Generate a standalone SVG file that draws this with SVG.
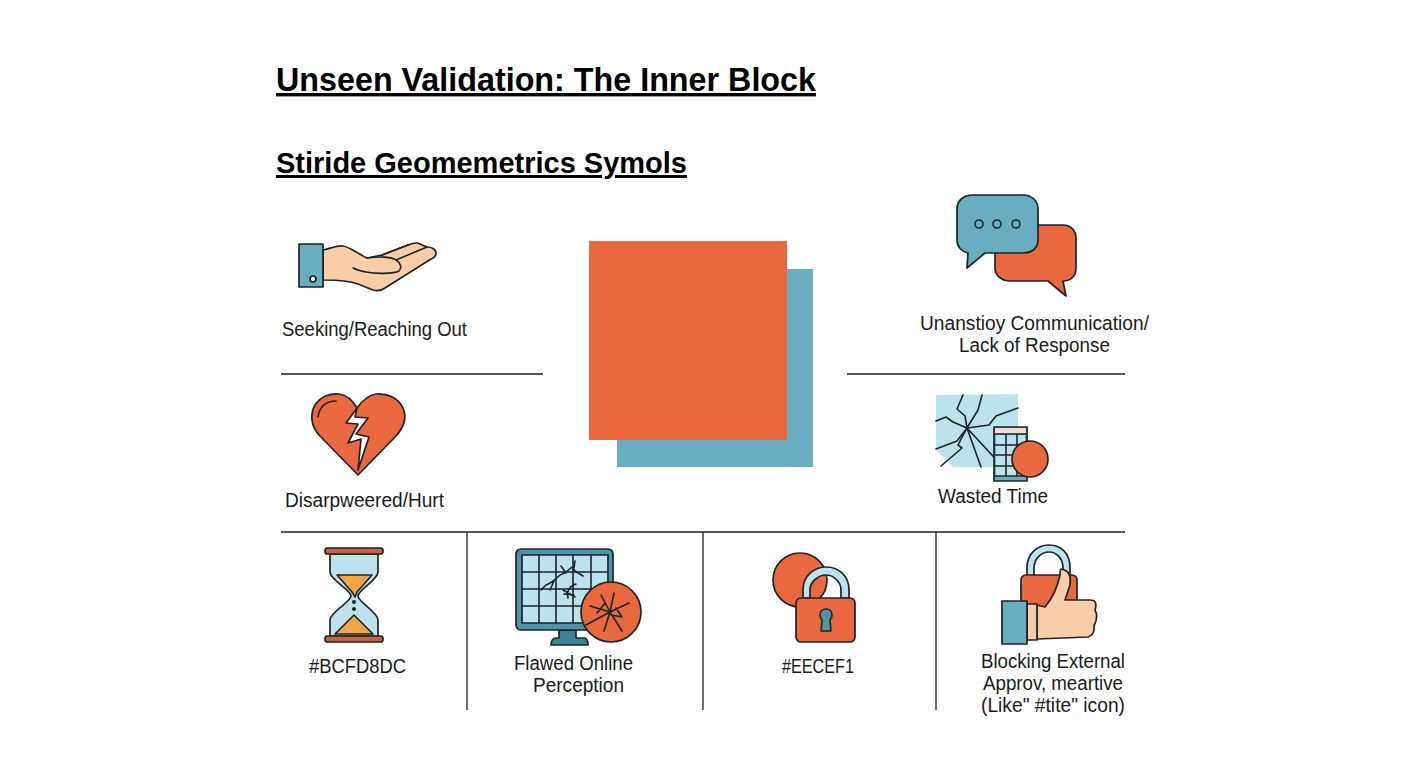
<svg xmlns="http://www.w3.org/2000/svg" width="1408" height="768" viewBox="0 0 1408 768">
<style>
text{font-family:"Liberation Sans",Arial,sans-serif;fill:#1a1a1a;font-size:19.5px}
.h1{font-weight:700;font-size:34px;fill:#000;text-decoration:underline}
.h2{font-weight:700;font-size:30px;fill:#000;text-decoration:underline}
.rule{stroke:#222;stroke-width:1.3;fill:none}
.o{stroke:#1c2428;stroke-width:1.7;stroke-linejoin:round;stroke-linecap:round}
.t{stroke:#1c2428;stroke-width:1.6;fill:none;stroke-linejoin:round;stroke-linecap:round}
.red{fill:#E9683F}.blue{fill:#69AEC0}.pale{fill:#BCE2EC}.skin{fill:#F8CDA8}.sand{fill:#F2A545}.bar{fill:#D2603F}.w{fill:#fff}
</style>
<rect width="1408" height="768" fill="#fff"/>
<g id="titles">
<text class="h1" x="276" y="91" textLength="540" lengthAdjust="spacingAndGlyphs">Unseen Validation: The Inner Block</text>
<text class="h2" x="276" y="173" textLength="411" lengthAdjust="spacingAndGlyphs">Stiride Geomemetrics Symols</text>
</g>
<g id="connectors">
<path class="rule" d="M281 374H543M847 374H1125M281 532H1125M467 532V710M703 532V710M936 532V710"/>
</g>
<g id="center-block">
<rect class="blue" x="617" y="269" width="196" height="198"/>
<rect class="red" x="589" y="241" width="198" height="199"/>
</g>
<g id="seeking">
<path class="o skin" d="M323 250C332 248 338 245 343 246C350 247 358 254 367 258L382 255L408 245C413 243 417 242 420 244L427 247C431 247 436 249 436 253C436 256 434 258 431 259L385 288C381 291 377 291 373 290L358 284C350 281 336 280 323 280Z"/>
<path class="t" d="M367 258C380 256 392 257 396 260C401 263 402 268 399 271C394 274 375 274 366 272C361 271 357 270 353 268M382 255L408 245M396 260L427 247"/>
<rect class="o blue" x="299" y="244" width="24" height="43"/>
<circle class="o w" cx="313" cy="279" r="3"/>
<text x="282" y="336" textLength="185" lengthAdjust="spacingAndGlyphs">Seeking/Reaching Out</text>
</g>
<g id="hurt">
<path class="o red" d="M358 475L320 436C309 425 311 412 315 405C321 396 331 393 339 394C347 395 353 401 357 408C362 401 368 395 376 394C386 393 398 397 403 408C407 417 404 427 396 436Z"/>
<path class="o w" d="M357 408L346 423L358 424L348 443L361 439L358 470L369 437L356 434L368 418L355 417Z"/>
<path class="t" d="M318 417C319 408 325 401 336 401"/>
<text x="285" y="507" textLength="159" lengthAdjust="spacingAndGlyphs">Disarpweered/Hurt</text>
</g>
<g id="communication">
<path class="o red" d="M1010 225H1063C1071 225 1076 231 1076 238V268C1076 276 1071 281 1063 281L1066 296L1048 281H1010C1001 281 995 275 995 268V240C995 231 1001 225 1010 225Z"/>
<path class="o blue" d="M973 195H1023C1032 195 1038 201 1038 209V240C1038 248 1032 253 1023 253H985L967 268L968 253C962 252 957 247 957 240V209C957 201 963 195 973 195Z"/>
<circle class="t" cx="979" cy="224" r="4"/><circle class="t" cx="997" cy="224" r="4"/><circle class="t" cx="1016" cy="224" r="4"/>
<text x="920" y="330" textLength="229" lengthAdjust="spacingAndGlyphs">Unanstioy Communication/</text>
<text x="959" y="352" textLength="151" lengthAdjust="spacingAndGlyphs">Lack of Response</text>
</g>
<g id="wasted-time">
<path class="pale" d="M936 395L1018 394V440L1003 467H953L936 450Z"/>
<path class="t" d="M963 395L957 409L965 416L967 428L978 410L982 395M1018 408L996 416L989 425L967 428L953 422L946 417L936 421M967 428L957 441L936 449M967 428L981 467M967 428L1003 467M967 428L958 445L962 448L941 466"/>
<rect class="o blue" x="994" y="427" width="33" height="54"/>
<rect x="995" y="428" width="31" height="6" fill="#F3D8D0"/>
<path d="M996 435H1025V476H996Z" class="pale"/>
<path class="t" d="M1006 434V476M1017 434V476M995 445H1026M995 455H1026M995 466H1026M994 434H1027M995 476H1026"/>
<circle class="o red" cx="1030" cy="459" r="18"/>
<text x="938" y="503" textLength="110" lengthAdjust="spacingAndGlyphs">Wasted Time</text>
</g>
<g id="hourglass">
<path class="o pale" d="M330 554H378V572C378 580 358 590 358 596C358 602 378 612 378 620V636H330V620C330 612 351 602 351 596C351 590 330 580 330 572Z"/>
<path class="t" style="fill:#F2A545" d="M337 575H372L357 592L355 597L352 592Z"/>
<path class="t" style="fill:#F2A545" d="M335 634L354 615L373 634Z"/>
<circle cx="354" cy="602" r="2" fill="#1c2428"/><circle cx="354" cy="609" r="2" fill="#1c2428"/>
<rect class="o bar" x="325" y="548" width="58" height="6" rx="2.5"/>
<rect class="o bar" x="325" y="636" width="58" height="6" rx="2.5"/>
<text x="309" y="673" textLength="97" lengthAdjust="spacingAndGlyphs">#BCFD8DC</text>
</g>
<g id="flawed-perception">
<path class="o" style="fill:#3F8397" d="M559 630H576V638H584C587 638 588 641 588 645H551C551 641 553 638 556 638H559Z"/>
<rect class="o" style="fill:#4F93A8" x="516" y="549" width="97" height="81" rx="5"/>
<rect class="o pale" x="522" y="555" width="86" height="68"/>
<path class="t" d="M539 555V623M556 555V623M573 555V623M591 555V623M522 572H608M522 589H608M522 606H608"/>
<path class="t" d="M546 585C555 582 558 574 565 573L572 567L575 571L583 576M566 573L561 566M575 561L574 568M546 585L541 590M554 581L550 590M568 598C566 590 571 585 576 584M564 594L574 595M568 598V597M563 590L575 597"/>
<circle class="o red" cx="611" cy="612" r="30"/>
<path class="t" d="M610 612L590 606M610 612L629 603M610 612L586 625M610 612L604 631M610 612L614 593M610 612L622 631M610 612L601 595M597 613L605 603M616 608L622 617L611 615"/>
<text x="514" y="670" textLength="119" lengthAdjust="spacingAndGlyphs">Flawed Online</text>
<text x="533" y="692" textLength="91" lengthAdjust="spacingAndGlyphs">Perception</text>
</g>
<g id="padlock">
<circle class="o red" cx="800" cy="580" r="27"/>
<path class="o pale" d="M803 598V590C803 575 815 567 826 567C838 567 849 575 849 590V598H841V590C841 582 834 575 826 575C818 575 810 582 810 590V598Z"/>
<rect class="o red" x="796" y="598" width="59" height="44" rx="5"/>
<path class="t" style="fill:#4F93A8" d="M826 609C830 609 832 612 832 615C832 617 831 619 830 620L831 631H821L822 620C821 619 820 617 820 615C820 612 822 609 826 609Z"/>
<text x="782" y="673" textLength="72" lengthAdjust="spacingAndGlyphs">#EECEF1</text>
</g>
<g id="blocking-approval">
<path class="o pale" d="M1027 580V568C1027 553 1038 545 1049 545C1061 545 1070 553 1070 568V580H1063V568C1063 559 1057 552 1049 552C1041 552 1034 559 1034 568V580Z"/>
<rect class="o red" x="1021" y="575" width="56" height="34" rx="5"/>
<path class="o skin" d="M1037 605L1045 607C1055 595 1058 585 1060 575C1060 569 1061 568 1064 570C1069 571 1071 577 1070 585L1065 600L1090 600C1096 600 1097 604 1095 610C1098 615 1097 620 1094 626C1095 632 1092 636 1088 637L1037 639Z"/>
<rect class="o skin" x="1027" y="604" width="10" height="36"/>
<rect class="o blue" x="1002" y="601" width="25" height="43"/>
<text x="981" y="668" textLength="144" lengthAdjust="spacingAndGlyphs">Blocking External</text>
<text x="983" y="690" textLength="140" lengthAdjust="spacingAndGlyphs">Approv, meartive</text>
<text x="981" y="712" textLength="144" lengthAdjust="spacingAndGlyphs">(Like" #tite" icon)</text>
</g>
</svg>
